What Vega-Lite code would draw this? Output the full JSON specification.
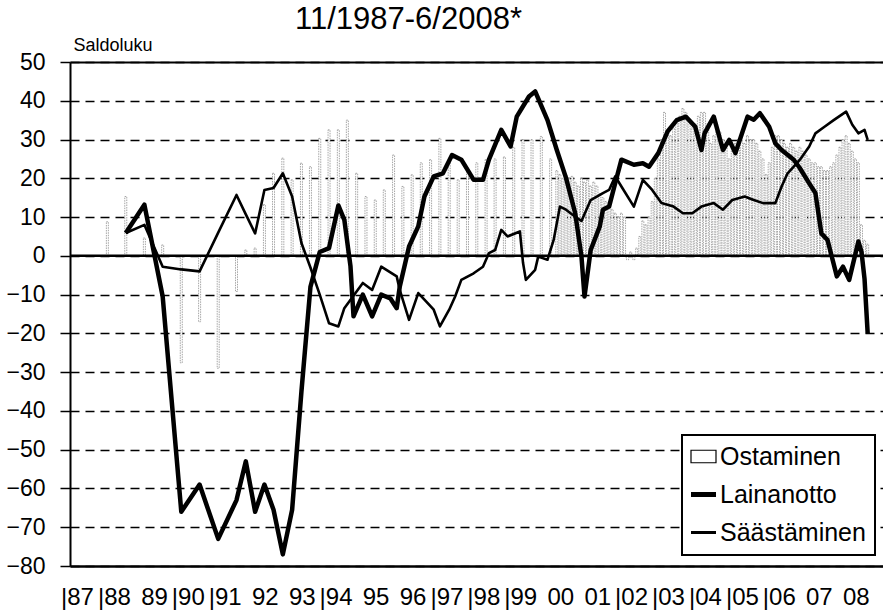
{
  "$schema": "https://vega.github.io/schema/vega-lite/v6.json",
  "autosize": "none",
  "width": 813,
  "height": 504,
  "padding": {"left": 70, "top": 62, "right": 0, "bottom": 48},
  "background": "white",
  "config": {"view": {"stroke": null}, "font": "Liberation Sans"},
  "title": {"text": "11/1987-6/2008*", "fontSize": 31, "fontWeight": "normal", "font": "Liberation Sans", "color": "black", "anchor": "start", "frame": "group", "dx": 225, "offset": 0},
  "datasets": {
    "zero": [{"v": 0}],
    "bars": [
      {"d":"1987-11","v":8.8},{"d":"1988-05","v":15.3},{"d":"1988-11","v":4.6},{"d":"1989-05","v":2.8},{"d":"1989-11","v":-27.6},
      {"d":"1990-05","v":-17},{"d":"1990-11","v":-29},{"d":"1991-05","v":-9.2},{"d":"1991-08","v":1.5},{"d":"1991-11","v":2},
      {"d":"1992-02","v":13.2},{"d":"1992-05","v":21.3},{"d":"1992-08","v":25.2},{"d":"1992-11","v":19.6},
      {"d":"1993-02","v":23.9},{"d":"1993-05","v":23},{"d":"1993-08","v":30.3},{"d":"1993-11","v":32.5},
      {"d":"1994-02","v":32.5},{"d":"1994-05","v":35},{"d":"1994-08","v":21.3},{"d":"1994-11","v":15.3},
      {"d":"1995-02","v":14.4},{"d":"1995-05","v":17},{"d":"1995-08","v":26},{"d":"1995-11","v":17.9},
      {"d":"1996-02","v":20.9},{"d":"1996-05","v":24},{"d":"1996-08","v":24.8},{"d":"1996-11","v":30.3},
      {"d":"1997-02","v":24.8},{"d":"1997-05","v":19.6},{"d":"1997-08","v":22},{"d":"1997-11","v":24},
      {"d":"1998-02","v":24.8},{"d":"1998-05","v":25},{"d":"1998-08","v":25.5},{"d":"1998-11","v":28},
      {"d":"1999-02","v":30},{"d":"1999-05","v":30},{"d":"1999-08","v":30.8},{"d":"1999-11","v":25},
      {"d":"2000-01","v":22},{"d":"2000-02","v":21},{"d":"2000-03","v":20},{"d":"2000-04","v":21},{"d":"2000-05","v":20},{"d":"2000-06","v":20.5},
      {"d":"2000-07","v":19},{"d":"2000-08","v":18},{"d":"2000-09","v":20},{"d":"2000-10","v":19},{"d":"2000-11","v":19.6},{"d":"2000-12","v":18},
      {"d":"2001-01","v":19},{"d":"2001-02","v":18},{"d":"2001-03","v":16},{"d":"2001-04","v":15},{"d":"2001-05","v":14},{"d":"2001-06","v":13},
      {"d":"2001-07","v":12},{"d":"2001-08","v":11},{"d":"2001-09","v":10},{"d":"2001-10","v":11},{"d":"2001-11","v":10},{"d":"2001-12","v":-1},
      {"d":"2002-01","v":1},{"d":"2002-02","v":-1},{"d":"2002-03","v":2},{"d":"2002-04","v":5},{"d":"2002-05","v":9},{"d":"2002-06","v":8},
      {"d":"2002-07","v":10},{"d":"2002-08","v":14},{"d":"2002-09","v":20},{"d":"2002-10","v":25},{"d":"2002-11","v":30},{"d":"2002-12","v":37},
      {"d":"2003-01","v":32},{"d":"2003-02","v":31},{"d":"2003-03","v":33},{"d":"2003-04","v":35},{"d":"2003-05","v":36},{"d":"2003-06","v":38},
      {"d":"2003-07","v":37},{"d":"2003-08","v":35},{"d":"2003-09","v":33},{"d":"2003-10","v":34},{"d":"2003-11","v":36},{"d":"2003-12","v":37},
      {"d":"2004-01","v":37},{"d":"2004-02","v":34},{"d":"2004-03","v":29},{"d":"2004-04","v":31},{"d":"2004-05","v":33},{"d":"2004-06","v":32},
      {"d":"2004-07","v":30},{"d":"2004-08","v":28},{"d":"2004-09","v":25},{"d":"2004-10","v":27},{"d":"2004-11","v":29},{"d":"2004-12","v":30},
      {"d":"2005-01","v":30},{"d":"2005-02","v":29},{"d":"2005-03","v":31},{"d":"2005-04","v":30},{"d":"2005-05","v":30},{"d":"2005-06","v":29},
      {"d":"2005-07","v":27},{"d":"2005-08","v":25},{"d":"2005-09","v":21},{"d":"2005-10","v":24},{"d":"2005-11","v":28},{"d":"2005-12","v":31},
      {"d":"2006-01","v":31},{"d":"2006-02","v":30},{"d":"2006-03","v":29},{"d":"2006-04","v":28},{"d":"2006-05","v":29},{"d":"2006-06","v":28},
      {"d":"2006-07","v":27},{"d":"2006-08","v":28},{"d":"2006-09","v":27},{"d":"2006-10","v":26},{"d":"2006-11","v":25},{"d":"2006-12","v":24},
      {"d":"2007-01","v":24},{"d":"2007-02","v":23},{"d":"2007-03","v":23},{"d":"2007-04","v":22},{"d":"2007-05","v":22},{"d":"2007-06","v":23},
      {"d":"2007-07","v":24},{"d":"2007-08","v":26},{"d":"2007-09","v":28},{"d":"2007-10","v":30},{"d":"2007-11","v":31},{"d":"2007-12","v":29},
      {"d":"2008-01","v":27},{"d":"2008-02","v":25},{"d":"2008-03","v":24},{"d":"2008-04","v":8},{"d":"2008-05","v":4},{"d":"2008-06","v":3}
    ],
    "lines": [
      {"d":"1988-05","s":"Lainanotto","v":5.9},{"d":"1988-11","s":"Lainanotto","v":13.2},{"d":"1989-05","s":"Lainanotto","v":-10.5},{"d":"1989-11","s":"Lainanotto","v":-66},
      {"d":"1990-05","s":"Lainanotto","v":-59},{"d":"1990-11","s":"Lainanotto","v":-73},{"d":"1991-05","s":"Lainanotto","v":-63},{"d":"1991-08","s":"Lainanotto","v":-53},
      {"d":"1991-11","s":"Lainanotto","v":-66},{"d":"1992-02","s":"Lainanotto","v":-59},{"d":"1992-05","s":"Lainanotto","v":-65.5},{"d":"1992-08","s":"Lainanotto","v":-77},
      {"d":"1992-11","s":"Lainanotto","v":-65.5},{"d":"1993-02","s":"Lainanotto","v":-35},{"d":"1993-05","s":"Lainanotto","v":-8},{"d":"1993-08","s":"Lainanotto","v":1},
      {"d":"1993-11","s":"Lainanotto","v":2},{"d":"1994-02","s":"Lainanotto","v":13},{"d":"1994-04","s":"Lainanotto","v":9.3},{"d":"1994-06","s":"Lainanotto","v":-2.7},
      {"d":"1994-07","s":"Lainanotto","v":-15.6},{"d":"1994-10","s":"Lainanotto","v":-10},{"d":"1995-01","s":"Lainanotto","v":-15.6},{"d":"1995-04","s":"Lainanotto","v":-10},
      {"d":"1995-07","s":"Lainanotto","v":-11},{"d":"1995-09","s":"Lainanotto","v":-13.5},{"d":"1995-10","s":"Lainanotto","v":-8},{"d":"1996-01","s":"Lainanotto","v":2.4},
      {"d":"1996-04","s":"Lainanotto","v":7.6},{"d":"1996-06","s":"Lainanotto","v":15.3},{"d":"1996-09","s":"Lainanotto","v":20.5},{"d":"1996-12","s":"Lainanotto","v":21.3},
      {"d":"1997-03","s":"Lainanotto","v":26},{"d":"1997-06","s":"Lainanotto","v":24.8},{"d":"1997-10","s":"Lainanotto","v":19.6},{"d":"1998-01","s":"Lainanotto","v":19.6},
      {"d":"1998-03","s":"Lainanotto","v":24.8},{"d":"1998-07","s":"Lainanotto","v":32.5},{"d":"1998-10","s":"Lainanotto","v":28.2},{"d":"1998-12","s":"Lainanotto","v":35.9},
      {"d":"1999-04","s":"Lainanotto","v":41.1},{"d":"1999-06","s":"Lainanotto","v":42.4},{"d":"1999-10","s":"Lainanotto","v":35},{"d":"2000-01","s":"Lainanotto","v":27.3},
      {"d":"2000-04","s":"Lainanotto","v":20.1},{"d":"2000-07","s":"Lainanotto","v":11},{"d":"2000-09","s":"Lainanotto","v":-0.2},{"d":"2000-10","s":"Lainanotto","v":-10.5},
      {"d":"2000-12","s":"Lainanotto","v":1.5},{"d":"2001-03","s":"Lainanotto","v":7.6},{"d":"2001-04","s":"Lainanotto","v":11.9},{"d":"2001-06","s":"Lainanotto","v":12.7},
      {"d":"2001-08","s":"Lainanotto","v":18.8},{"d":"2001-10","s":"Lainanotto","v":24.8},{"d":"2002-02","s":"Lainanotto","v":23.5},{"d":"2002-05","s":"Lainanotto","v":23.9},
      {"d":"2002-07","s":"Lainanotto","v":23},{"d":"2002-10","s":"Lainanotto","v":26.5},{"d":"2003-01","s":"Lainanotto","v":32.1},{"d":"2003-04","s":"Lainanotto","v":35},
      {"d":"2003-07","s":"Lainanotto","v":35.9},{"d":"2003-10","s":"Lainanotto","v":33.3},{"d":"2003-12","s":"Lainanotto","v":27.3},{"d":"2004-01","s":"Lainanotto","v":31.6},
      {"d":"2004-04","s":"Lainanotto","v":35.9},{"d":"2004-07","s":"Lainanotto","v":27.3},{"d":"2004-09","s":"Lainanotto","v":29.9},{"d":"2004-11","s":"Lainanotto","v":26.5},
      {"d":"2005-03","s":"Lainanotto","v":35.9},{"d":"2005-05","s":"Lainanotto","v":35.1},{"d":"2005-07","s":"Lainanotto","v":36.8},{"d":"2005-10","s":"Lainanotto","v":33.3},
      {"d":"2005-12","s":"Lainanotto","v":29},{"d":"2006-02","s":"Lainanotto","v":27.3},{"d":"2006-06","s":"Lainanotto","v":24.8},{"d":"2006-08","s":"Lainanotto","v":22.6},
      {"d":"2006-11","s":"Lainanotto","v":18.7},{"d":"2007-01","s":"Lainanotto","v":16.2},{"d":"2007-03","s":"Lainanotto","v":5.8},{"d":"2007-05","s":"Lainanotto","v":4.1},
      {"d":"2007-08","s":"Lainanotto","v":-5.3},{"d":"2007-10","s":"Lainanotto","v":-2.8},{"d":"2007-12","s":"Lainanotto","v":-6.2},{"d":"2008-03","s":"Lainanotto","v":3.7},
      {"d":"2008-04","s":"Lainanotto","v":1},{"d":"2008-05","s":"Lainanotto","v":-6},{"d":"2008-06","s":"Lainanotto","v":-20},

      {"d":"1988-05","s":"Säästäminen","v":5.9},{"d":"1988-11","s":"Säästäminen","v":8},{"d":"1989-05","s":"Säästäminen","v":-2.8},{"d":"1989-11","s":"Säästäminen","v":-3.5},
      {"d":"1990-05","s":"Säästäminen","v":-4},{"d":"1990-11","s":"Säästäminen","v":6},{"d":"1991-05","s":"Säästäminen","v":15.7},{"d":"1991-08","s":"Säästäminen","v":10.7},
      {"d":"1991-11","s":"Säästäminen","v":5.8},{"d":"1992-02","s":"Säästäminen","v":17},{"d":"1992-05","s":"Säästäminen","v":17.5},{"d":"1992-08","s":"Säästäminen","v":21.3},
      {"d":"1992-11","s":"Säästäminen","v":15.3},{"d":"1993-02","s":"Säästäminen","v":3.3},{"d":"1993-05","s":"Säästäminen","v":-3},{"d":"1993-08","s":"Säästäminen","v":-10},
      {"d":"1993-11","s":"Säästäminen","v":-17.4},{"d":"1994-02","s":"Säästäminen","v":-18.2},{"d":"1994-04","s":"Säästäminen","v":-13.5},{"d":"1994-10","s":"Säästäminen","v":-7},
      {"d":"1995-01","s":"Säästäminen","v":-8.8},{"d":"1995-04","s":"Säästäminen","v":-2.8},{"d":"1995-09","s":"Säästäminen","v":-5.3},{"d":"1995-10","s":"Säästäminen","v":-8.8},
      {"d":"1996-01","s":"Säästäminen","v":-16.5},{"d":"1996-04","s":"Säästäminen","v":-9.6},{"d":"1996-06","s":"Säästäminen","v":-11.3},{"d":"1996-09","s":"Säästäminen","v":-13.9},
      {"d":"1996-11","s":"Säästäminen","v":-18.2},{"d":"1997-02","s":"Säästäminen","v":-13.9},{"d":"1997-04","s":"Säästäminen","v":-10.5},{"d":"1997-06","s":"Säästäminen","v":-6.2},
      {"d":"1997-10","s":"Säästäminen","v":-4.5},{"d":"1998-01","s":"Säästäminen","v":-2.8},{"d":"1998-03","s":"Säästäminen","v":0.7},{"d":"1998-05","s":"Säästäminen","v":1.5},
      {"d":"1998-07","s":"Säästäminen","v":6.7},{"d":"1998-09","s":"Säästäminen","v":5},{"d":"1999-01","s":"Säästäminen","v":6.3},{"d":"1999-02","s":"Säästäminen","v":-1.8},
      {"d":"1999-03","s":"Säästäminen","v":-6.2},{"d":"1999-06","s":"Säästäminen","v":-3.6},{"d":"1999-07","s":"Säästäminen","v":-0.2},{"d":"1999-10","s":"Säästäminen","v":-1},
      {"d":"1999-12","s":"Säästäminen","v":4.1},{"d":"2000-02","s":"Säästäminen","v":12.7},{"d":"2000-04","s":"Säästäminen","v":11.9},{"d":"2000-07","s":"Säästäminen","v":10.1},
      {"d":"2000-09","s":"Säästäminen","v":9},{"d":"2000-12","s":"Säästäminen","v":14.4},{"d":"2001-04","s":"Säästäminen","v":16.2},{"d":"2001-06","s":"Säästäminen","v":17},
      {"d":"2001-08","s":"Säästäminen","v":20.5},{"d":"2001-10","s":"Säästäminen","v":17.9},{"d":"2002-02","s":"Säästäminen","v":12.7},{"d":"2002-05","s":"Säästäminen","v":19.6},
      {"d":"2002-08","s":"Säästäminen","v":17},{"d":"2002-11","s":"Säästäminen","v":13.6},{"d":"2003-03","s":"Säästäminen","v":12.7},{"d":"2003-06","s":"Säästäminen","v":11},
      {"d":"2003-09","s":"Säästäminen","v":11},{"d":"2003-12","s":"Säästäminen","v":12.7},{"d":"2004-04","s":"Säästäminen","v":13.6},{"d":"2004-07","s":"Säästäminen","v":11.9},
      {"d":"2004-10","s":"Säästäminen","v":14.4},{"d":"2005-02","s":"Säästäminen","v":15.3},{"d":"2005-05","s":"Säästäminen","v":14.4},{"d":"2005-08","s":"Säästäminen","v":13.6},
      {"d":"2005-12","s":"Säästäminen","v":13.6},{"d":"2006-02","s":"Säästäminen","v":17.9},{"d":"2006-04","s":"Säästäminen","v":21.3},{"d":"2006-06","s":"Säästäminen","v":23},
      {"d":"2006-08","s":"Säästäminen","v":24.8},{"d":"2006-11","s":"Säästäminen","v":28.2},{"d":"2007-01","s":"Säästäminen","v":31.6},{"d":"2007-04","s":"Säästäminen","v":33.3},
      {"d":"2007-07","s":"Säästäminen","v":35},{"d":"2007-11","s":"Säästäminen","v":37.2},{"d":"2008-01","s":"Säästäminen","v":33.8},{"d":"2008-03","s":"Säästäminen","v":31.6},
      {"d":"2008-05","s":"Säästäminen","v":32.5},{"d":"2008-06","s":"Säästäminen","v":29.9}
    ]
  },
  "resolve": {"axis": {"x": "independent"}},
  "encoding": {
    "y": {"field": "v", "type": "quantitative",
          "scale": {"domain": [-80, 50], "nice": false, "zero": false},
          "axis": {"values": [-80,-70,-60,-50,-40,-30,-20,-10,0,10,20,30,40,50], "tickCount": 30,
                   "title": "Saldoluku", "titleAngle": 0, "titleAlign": "left", "titleBaseline": "alphabetic",
                   "titleX": 3, "titleY": -12, "titleFontSize": 18, "titleFontWeight": "normal", "titleColor": "black", "titleFont": "Liberation Sans",
                   "labelFontSize": 23, "labelColor": "black", "labelFont": "Liberation Sans", "labelPadding": 15,
                   "labelOverlap": false, "labelFlush": false, "labelBound": false,
                   "tickSize": 10, "tickColor": "black", "tickWidth": 1.5,
                   "domainColor": "black", "domainWidth": 2,
                   "grid": true, "gridColor": "black", "gridDash": [9, 6], "gridWidth": 1.5}}
  },
  "layer": [
    {
      "data": {"name": "bars"},
      "mark": {"type": "bar", "width": 2, "fill": "white", "stroke": "#8f8f8f", "strokeWidth": 0.8, "strokeDash": [1.5, 1]},
      "encoding": {
        "x": {"field": "d", "type": "temporal",
              "scale": {"domain": [{"year": 1986, "month": 12, "date": 16}, {"year": 2008, "month": 9, "date": 11}]},
              "axis": {"orient": "top", "labels": false, "ticks": false, "grid": false, "title": null, "domainColor": "black", "domainWidth": 2}}
      }
    },
    {
      "data": {"name": "zero"},
      "mark": {"type": "rule", "color": "black", "strokeWidth": 2.5},
      "encoding": {}
    },
    {
      "data": {"name": "lines"},
      "transform": [{"filter": "datum.s === 'Säästäminen'"}],
      "mark": {"type": "line", "strokeWidth": 2.6, "strokeJoin": "round"},
      "encoding": {
        "x": {"field": "d", "type": "temporal", "axis": null},
        "color": {"field": "s", "type": "nominal",
                  "scale": {"domain": ["Ostaminen", "Lainanotto", "Säästäminen"], "range": ["black", "black", "black"]},
                  "legend": {"orient": "none", "legendX": 612, "legendY": 373, "title": null,
                             "labelFontSize": 25, "labelColor": "black", "labelFont": "Liberation Sans", "labelOffset": 4,
                             "symbolSize": 625, "rowPadding": 12, "padding": 9,
                             "strokeColor": "black", "fillColor": "white",
                             "encode": {
                               "symbols": {"update": {
                                 "shape": {"signal": "datum.value === 'Ostaminen' ? 'M-1,-0.5H1V0.5H-1Z' : 'stroke'"},
                                 "strokeWidth": {"signal": "datum.value === 'Lainanotto' ? 5 : datum.value === 'Säästäminen' ? 3 : 1.2"},
                                 "fill": {"signal": "datum.value === 'Ostaminen' ? 'white' : 'transparent'"},
                                 "stroke": {"value": "black"}}},
                               "legend": {"update": {"strokeWidth": {"value": 2}}}
                             }}}
      }
    },
    {
      "data": {"name": "lines"},
      "transform": [{"filter": "datum.s === 'Lainanotto'"}],
      "mark": {"type": "line", "strokeWidth": 4.5, "strokeJoin": "round"},
      "encoding": {
        "x": {"field": "d", "type": "temporal",
              "axis": {"orient": "bottom", "title": null, "grid": false, "ticks": false, "tickCount": 40,
                       "values": [{"year":1987,"month":6,"date":16},{"year":1988,"month":6,"date":16},{"year":1989,"month":6,"date":16},{"year":1990,"month":6,"date":16},
                                  {"year":1991,"month":6,"date":16},{"year":1992,"month":6,"date":16},{"year":1993,"month":6,"date":16},{"year":1994,"month":6,"date":16},
                                  {"year":1995,"month":6,"date":16},{"year":1996,"month":6,"date":16},{"year":1997,"month":6,"date":16},{"year":1998,"month":6,"date":16},
                                  {"year":1999,"month":6,"date":16},{"year":2000,"month":6,"date":16},{"year":2001,"month":6,"date":16},{"year":2002,"month":6,"date":16},
                                  {"year":2003,"month":6,"date":16},{"year":2004,"month":6,"date":16},{"year":2005,"month":6,"date":16},{"year":2006,"month":6,"date":16},
                                  {"year":2007,"month":6,"date":16},{"year":2008,"month":6,"date":16}],
                       "labelExpr": "(indexof([1987,1988,1990,1991,1994,1997,1998,1999,2002,2003,2004,2005,2006], year(datum.value)) >= 0 ? '|' : '') + timeFormat(datum.value, '%y')",
                       "labelAlign": "right", "labelDx": 13, "labelPadding": 19, "labelFontSize": 24, "labelColor": "black", "labelFont": "Liberation Sans",
                       "labelFlush": false, "labelOverlap": false, "labelBound": false,
                       "domainColor": "black", "domainWidth": 2.5}},
        "color": {"field": "s", "type": "nominal"}
      }
    }
  ]
}
